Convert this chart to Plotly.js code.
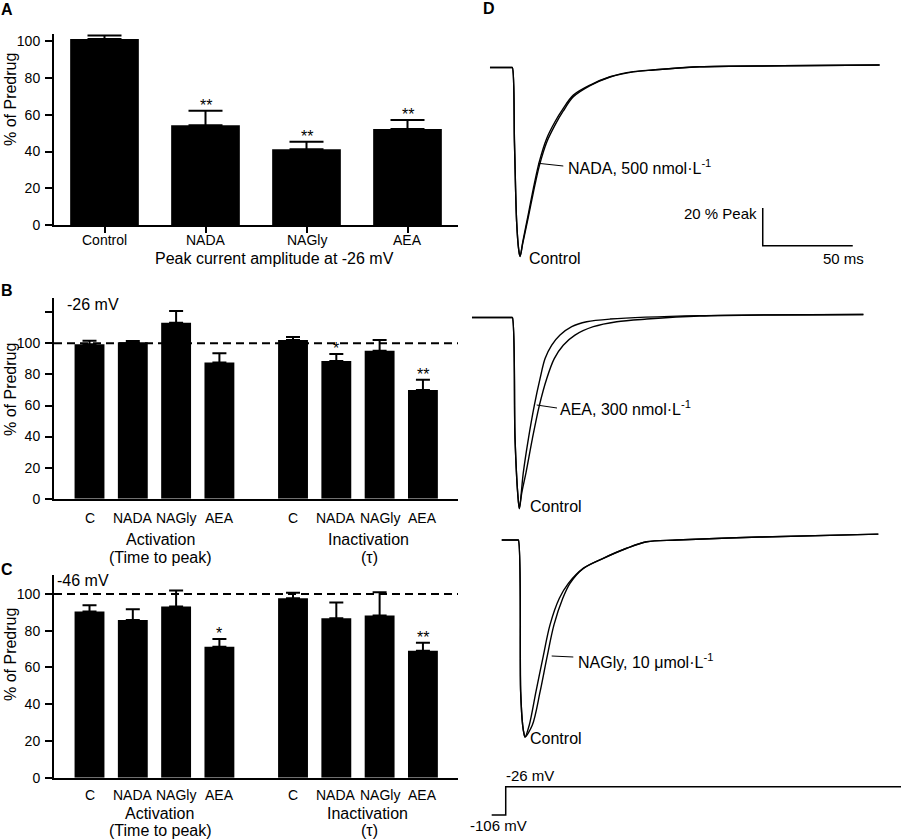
<!DOCTYPE html>
<html><head><meta charset="utf-8">
<script src="https://cdn.plot.ly/plotly-3.0.1.min.js"></script>
<style>html,body{margin:0;padding:0;background:#fff}#chart{width:901px;height:840px}</style>
</head><body><div id="chart"></div>
<script>
// ---------- Panel A data ----------
const aCategories = ["Control", "NADA", "NAGly", "AEA"];
const aValues = [101.3, 54.3, 41.2, 52.3];
const aErrors = [1.9, 7.9, 4.1, 4.9];
const aSig = ["", "**", "**", "**"];
const aXTitle = "Peak current amplitude at -26 mV";
const yTitle = "% of Predrug";

// ---------- Panels B / C data ----------
const bcCategories = ["C", "NADA", "NAGly", "AEA", "C", "NADA", "NAGly", "AEA"];
const groupTitles = ["Activation", "Inactivation"];
const groupSubtitles = ["(Time to peak)", "(τ)"];
const bValues = [99.5, 100.7, 113.3, 87.6, 102.2, 88.7, 95.3, 70.0];
const bErrors = [2.2, 0.8, 7.6, 6.0, 1.9, 4.5, 6.9, 6.6];
const bSig = ["", "", "", "", "", "*", "", "**"];
const bVoltage = "-26 mV";
const cValues = [90.4, 85.8, 93.1, 71.3, 97.6, 86.8, 88.2, 69.1];
const cErrors = [3.4, 5.9, 8.7, 4.2, 3.1, 8.5, 12.7, 4.4];
const cSig = ["", "", "", "*", "", "", "", "**"];
const cVoltage = "-46 mV";

// ---------- Panel D data (time in ms from step, current in % of peak) ----------
const d1Time    = [-12.4, -0.5, 0, 1.2, 2.4, 3.5, 4.3, 5.8, 8.8, 11.7, 15.0, 19.1, 23.7, 28.3, 33.9, 43.2, 54.3, 67.2, 78.2, 104, 150, 204];
const d1Control = [0, 0, 0, -40, -81.6, -96, -100, -92.2, -78.0, -63.9, -49.8, -37.5, -28.7, -21.6, -14.6, -9.3, -4.9, -2.2, -1.3, 0.4, 0.9, 1.3];
const d1Nada    = [0, 0, 0, -40, -81.6, -96, -100, -93.0, -79.5, -66.0, -52.0, -39.5, -30.5, -23.0, -15.5, -9.6, -5.0, -2.3, -1.3, 0.4, 0.9, 1.3];
const d1Label = "NADA, 500 nmol·L<sup>-1</sup>";

const d2AeaTime     = [-22.4, -0.5, 0, 1.5, 3.0, 3.9, 6.1, 8.9, 12.2, 15.4, 18.2, 21.9, 26.5, 33.0, 41.3, 54.3, 104, 195];
const d2AeaCurrent  = [0, 0, 0, -63.2, -92, -100, -81.2, -63.6, -46.1, -32.0, -21.5, -14.5, -9.2, -4.8, -2.2, -0.8, 1.0, 1.6];
const d2CtrlTime    = [-22.4, -0.5, 0, 1.5, 3.0, 3.9, 5.2, 7.6, 11.1, 15.0, 19.1, 23.3, 28.3, 34.8, 45.0, 58.0, 74.7, 104, 195];
const d2CtrlCurrent = [0, 0, 0, -63.2, -92, -100, -92, -81.2, -63.6, -46.1, -32.0, -21.5, -14.5, -9.2, -4.8, -2.2, -0.8, 0.8, 1.6];
const d2Label = "AEA, 300 nmol·L<sup>-1</sup>";

const d3NaglyTime    = [-9.2, -0.5, 0, 1.3, 2.4, 3.2, 3.7, 6.1, 9.8, 13.6, 17.6, 22.8, 27.8, 36.1, 47.2, 60.2, 71.3, 88, 134, 200];
const d3NaglyCurrent = [0, 0, 0, -77, -93.9, -98.5, -100, -93.9, -77, -60.1, -43.1, -29.6, -22, -14.4, -9.3, -4.2, -0.9, 0, 1.5, 3.0];
const d3CtrlTime     = [-9.2, -0.5, 0, 1.3, 2.4, 3.2, 3.7, 7.8, 12.1, 15.8, 19.8, 24.7, 28.7, 36.1, 47.2, 60.2, 71.3, 88, 134, 200];
const d3CtrlCurrent  = [0, 0, 0, -77, -93.9, -98.5, -100, -93.9, -77, -60.1, -43.1, -29.6, -22, -14.4, -9.3, -4.2, -0.9, 0, 1.5, 3.0];
const d3Label = "NAGly, 10 μmol·L<sup>-1</sup>";

const controlLabel = "Control";
const protoTime = [-7.8, 0, 0, 230];
const protoVoltage = [-106, -106, -26, -26];
const protoLabels = ["-26 mV", "-106 mV"];
const scaleBarMs = 50;
const scaleBarPct = 20;
const scaleBarLabels = ["20 % Peak", "50 ms"];

// ---------- layout helpers ----------
const W = 901, H = 840;
const X = p => p / W;
const Y = p => 1 - p / H;
const FONT = "Liberation Sans, Arial, Helvetica, sans-serif";
const groupGap = 0.7;
const pos8 = bcCategories.map((c, i) => i + (i >= 4 ? groupGap : 0));

const errStyle = (err, w) => ({type: 'data', array: err, arrayminus: err.map(() => 0), symmetric: false,
  color: '#000', thickness: 2, width: w});

const traces = [];
traces.push({type: 'bar', x: aCategories, y: aValues, xaxis: 'x', yaxis: 'y', width: 0.68,
  marker: {color: '#000', line: {width: 0}}, error_y: errStyle(aErrors, 17), hoverinfo: 'skip'});
traces.push({type: 'bar', x: pos8, y: bValues, xaxis: 'x2', yaxis: 'y2', width: 0.69,
  marker: {color: '#000', line: {width: 0}}, error_y: errStyle(bErrors, 7), hoverinfo: 'skip'});
traces.push({type: 'bar', x: pos8, y: cValues, xaxis: 'x3', yaxis: 'y3', width: 0.69,
  marker: {color: '#000', line: {width: 0}}, error_y: errStyle(cErrors, 7), hoverinfo: 'skip'});

const tr = (x, y, xa, ya) => ({type: 'scatter', mode: 'lines', x: x, y: y, xaxis: xa, yaxis: ya,
  line: {color: '#000', width: 1.4, shape: 'spline', smoothing: 0.9}, hoverinfo: 'skip'});
traces.push(tr(d1Time, d1Control, 'x4', 'y4'));
traces.push(tr(d1Time, d1Nada, 'x4', 'y4'));
traces.push(tr(d2CtrlTime, d2CtrlCurrent, 'x5', 'y5'));
traces.push(tr(d2AeaTime, d2AeaCurrent, 'x5', 'y5'));
traces.push(tr(d3CtrlTime, d3CtrlCurrent, 'x6', 'y6'));
traces.push(tr(d3NaglyTime, d3NaglyCurrent, 'x6', 'y6'));
const proto = tr(protoTime, protoVoltage, 'x7', 'y7');
proto.line = {color: '#000', width: 1.5, shape: 'linear'};
traces.push(proto);

// scale bar in D1 coordinates
const sbT0 = 139.1, sbI0 = -74.3;
traces.push({type: 'scatter', mode: 'lines', x: [sbT0, sbT0, sbT0 + scaleBarMs],
  y: [sbI0, sbI0 - scaleBarPct, sbI0 - scaleBarPct], xaxis: 'x4', yaxis: 'y4',
  line: {color: '#000', width: 1.5}, hoverinfo: 'skip'});

// ---------- axes ----------
const tickFont = {family: FONT, size: 14, color: '#000'};
const baseY = (d, r, tv, tt) => ({domain: d, range: r, showline: true, linewidth: 2, linecolor: '#000',
  ticks: 'outside', ticklen: 7, tickwidth: 2, tickcolor: '#000', tickvals: tv, ticktext: tt,
  showgrid: false, zeroline: false, tickfont: tickFont, fixedrange: true, ticklabelstandoff: 2});
const hidden = (d, r, anchor) => ({domain: d, range: r, visible: false, showgrid: false, zeroline: false, anchor: anchor, fixedrange: true});

const ticks100 = [0, 20, 40, 60, 80, 100];
const layout = {
  width: W, height: H, margin: {l: 0, r: 0, t: 0, b: 0}, showlegend: false,
  paper_bgcolor: '#fff', plot_bgcolor: 'rgba(0,0,0,0)', font: {family: FONT, color: '#000'},
  xaxis: {domain: [X(54), X(458)], range: [-0.5, 3.5], anchor: 'y', type: 'category', showline: true, linewidth: 2,
    linecolor: '#000', ticks: 'outside', ticklen: 6, tickwidth: 2, tickcolor: '#000', showticklabels: false,
    showgrid: false, zeroline: false, fixedrange: true},
  yaxis: Object.assign(baseY([Y(225), Y(34)], [0, 104], ticks100, ticks100.map(String)), {anchor: 'x'}),
  xaxis2: {domain: [X(54), X(458)], range: [-0.82, 8.51], anchor: 'y2', showline: true, linewidth: 2,
    linecolor: '#000', ticks: '', showticklabels: false, showgrid: false, zeroline: false, fixedrange: true},
  yaxis2: Object.assign(baseY([Y(498.7), Y(298)], [0, 129.2], ticks100.concat([120]), ticks100.map(String).concat([''])), {anchor: 'x2'}),
  xaxis3: {domain: [X(54), X(458)], range: [-0.82, 8.51], anchor: 'y3', showline: true, linewidth: 2,
    linecolor: '#000', ticks: '', showticklabels: false, showgrid: false, zeroline: false, fixedrange: true},
  yaxis3: Object.assign(baseY([Y(777.7), Y(575)], [0, 110.3], ticks100, ticks100.map(String)), {anchor: 'x3'}),
  xaxis4: hidden([X(460), 1], [-29.06, 215.9], 'y4'),
  yaxis4: hidden([Y(280), Y(40)], [-112.4, 14.55], 'x4'),
  xaxis5: hidden([X(460), 1], [-29.06, 215.9], 'y5'),
  yaxis5: hidden([Y(520), Y(295)], [-106.0, 11.8], 'x5'),
  xaxis6: hidden([X(460), 1], [-32.4, 212.6], 'y6'),
  yaxis6: hidden([Y(750), Y(520)], [-106.6, 10.15], 'x6'),
  xaxis7: hidden([X(460), 1], [-25.4, 219.6], 'y7'),
  yaxis7: hidden([Y(835), Y(770)], [-162.5, 21.2], 'x7'),
  shapes: [], annotations: []
};

// dashed 100 % reference lines
['2', '3'].forEach(k => layout.shapes.push({type: 'line', xref: 'x' + k + ' domain', yref: 'y' + k,
  x0: 0, x1: 1, y0: 100, y1: 100, line: {color: '#000', width: 2, dash: '8px,5px'}}));

// leader lines in panel D
const leaders = [[538.3, 163.3, 563.3, 166], [536.7, 405, 557, 408], [551.7, 656, 573.3, 657]];
leaders.forEach(l => layout.shapes.push({type: 'line', xref: 'paper', yref: 'paper',
  x0: X(l[0]), y0: Y(l[1]), x1: X(l[2]), y1: Y(l[3]), line: {color: '#000', width: 1}}));

const ann = (text, x, y, opts) => layout.annotations.push(Object.assign({text: text, x: X(x), y: Y(y),
  xref: 'paper', yref: 'paper', showarrow: false, xanchor: 'center', yanchor: 'middle',
  font: {family: FONT, size: 16, color: '#000'}}, opts || {}));

// panel letters
ann('<b>A</b>', 7, 10);
ann('<b>B</b>', 7, 290.5);
ann('<b>C</b>', 7, 569);
ann('<b>D</b>', 489, 9);

// y titles
[100, 390, 655].forEach(p => ann(yTitle, 10, p, {textangle: -90}));

// panel A category labels and title
aCategories.forEach(c => layout.annotations.push({text: c, x: c, y: Y(240.5), xref: 'x', yref: 'paper',
  showarrow: false, xanchor: 'center', yanchor: 'middle', font: tickFont}));
ann(aXTitle, 274, 258.5);

// significance stars
const stars = (vals, errs, sig, xa, ya, xs) => sig.forEach((s, i) => {
  if (!s) return;
  layout.annotations.push({text: s, x: xs[i], y: vals[i] + errs[i], xref: xa, yref: ya, showarrow: false,
    xanchor: 'center', yanchor: 'bottom', yshift: -5, font: {family: FONT, size: 16, color: '#000'}});
});
stars(aValues, aErrors, aSig, 'x', 'y', aCategories);
stars(bValues, bErrors, bSig, 'x2', 'y2', pos8);
stars(cValues, cErrors, cSig, 'x3', 'y3', pos8);

// category labels and group labels B / C
const catLabels = (xa, yPx) => bcCategories.forEach((c, i) => layout.annotations.push({text: c, x: pos8[i], y: Y(yPx),
  xref: xa, yref: 'paper', showarrow: false, xanchor: 'center', yanchor: 'middle', font: tickFont}));
catLabels('x2', 518);
catLabels('x3', 795);
ann(groupTitles[0], 160, 539); ann(groupSubtitles[0], 160, 557);
ann(groupTitles[1], 368, 539); ann(groupSubtitles[1], 369, 557);
ann(groupTitles[0], 159, 813); ann(groupSubtitles[0], 160, 830);
ann(groupTitles[1], 367, 813); ann(groupSubtitles[1], 369, 830);
ann(bVoltage, 65, 304, {xanchor: 'left'});
ann(cVoltage, 55, 580, {xanchor: 'left'});

// panel D text
ann(d1Label, 566, 166.7, {xanchor: 'left'});
ann(d2Label, 558, 408, {xanchor: 'left'});
ann(d3Label, 575.5, 661, {xanchor: 'left'});
ann(controlLabel, 527, 258, {xanchor: 'left'});
ann(controlLabel, 528, 506.7, {xanchor: 'left'});
ann(controlLabel, 528, 738.5, {xanchor: 'left'});
ann(scaleBarLabels[0], 759, 213, {xanchor: 'right', font: {family: FONT, size: 15, color: '#000'}});
ann(scaleBarLabels[1], 843, 258, {font: {family: FONT, size: 15, color: '#000'}});
ann(protoLabels[0], 530, 775, {font: {family: FONT, size: 15, color: '#000'}});
ann(protoLabels[1], 499, 825, {font: {family: FONT, size: 15, color: '#000'}});

Plotly.newPlot('chart', traces, layout, {staticPlot: true, displayModeBar: false});
</script></body></html>
